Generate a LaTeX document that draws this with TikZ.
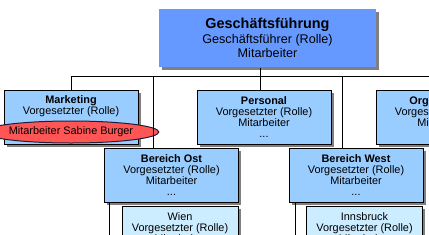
\documentclass[tikz,border=0pt]{standalone}
\usepackage{fontspec}
\setmainfont{Liberation Sans}
\usetikzlibrary{shapes.geometric,shadows,calc}

\definecolor{gfBlue}{RGB}{102,153,255}
\definecolor{unitBlue}{RGB}{153,204,255}
\definecolor{subBlue}{RGB}{204,236,255}
\definecolor{staffRed}{RGB}{255,85,85}
\definecolor{staffEdge}{RGB}{30,30,60}

\begin{document}
\begin{tikzpicture}[x=1pt, y=-1pt, line width=1pt,
    boxfont/.style={font=\fontsize{10.9}{11}\selectfont},
    shadowed/.style={drop shadow={shadow xshift=2.5pt, shadow yshift=-2.5pt,
      fill=black!50, opacity=1}},
    topbox/.style={fill=gfBlue, minimum width=217pt, minimum height=58pt,
      inner sep=0pt, align=center, shadowed,
      font=\fontsize{12.6}{14.5}\selectfont},
    unitbox/.style={draw=black, fill=unitBlue, minimum width=134pt,
      minimum height=54pt, inner sep=0pt, align=center, boxfont, shadowed},
    subbox/.style={draw=black, fill=subBlue, minimum width=116pt,
      minimum height=54pt, inner sep=0pt, align=center, boxfont, shadowed,
      anchor=north},
    staff/.style={ellipse, draw=staffEdge, fill=staffRed, minimum width=132pt,
      minimum height=22pt, inner sep=0pt, boxfont},
    plain/.style={inner sep=0pt, align=center, boxfont}]
  \useasboundingbox (0,0) rectangle (429,234);
  \clip (0,0) rectangle (429,234);
  % ==== management ====
  \node[topbox] (gf) at (267.5,38)
    {{\bfseries\fontsize{14.4}{15}\selectfont Geschäftsführung}\\
     Geschäftsführer (Rolle)\\Mitarbeiter};
  % ==== departments ====
  \node[unitbox] (mkt) at (71,117) {};
  \node[plain] (mkttxt) at (71,106.5) {\textbf{Marketing}\\Vorgesetzter (Rolle)};
  \node[staff] (burger) at (71,132) {Mitarbeiter Sabine Burger};
  \node[unitbox] (pers) at (264,117)
    {\textbf{Personal}\\Vorgesetzter (Rolle)\\Mitarbeiter\\...};
  \node[unitbox] (org) at (443,117)
    {\textbf{Organisation}\\Vorgesetzter (Rolle)\\Mitarbeiter\\...};
  % ==== regions ====
  \node[unitbox] (ost) at (171.5,175.5)
    {\textbf{Bereich Ost}\\Vorgesetzter (Rolle)\\Mitarbeiter\\...};
  \node[unitbox] (west) at (356,175.5)
    {\textbf{Bereich West}\\Vorgesetzter (Rolle)\\Mitarbeiter\\...};
  \node[subbox] (wien) at (180,206)
    {Wien\\Vorgesetzter (Rolle)\\Mitarbeiter\\...};
  \node[subbox] (ibk) at (364.5,206)
    {Innsbruck\\Vorgesetzter (Rolle)\\Mitarbeiter\\...};
  % ==== connectors ====
  \coordinate (bus) at (260,76);
  \coordinate (ostfoot) at (109,240);
  \coordinate (westfoot) at (295,240);
  \draw (bus |- gf.south) -- (bus);
  \draw (bus) -| (mkt.north);
  \draw (bus) -- (bus |- pers.north);
  \draw (bus) -| (org.north);
  \draw (bus) -| ($(ost.north west)+(49,0)$);
  \draw (bus) -| ($(west.north west)+(54,0)$);
  \draw (ost.south -| ostfoot) -- (ostfoot);
  \draw (west.south -| westfoot) -- (westfoot);
\end{tikzpicture}
\end{document}
